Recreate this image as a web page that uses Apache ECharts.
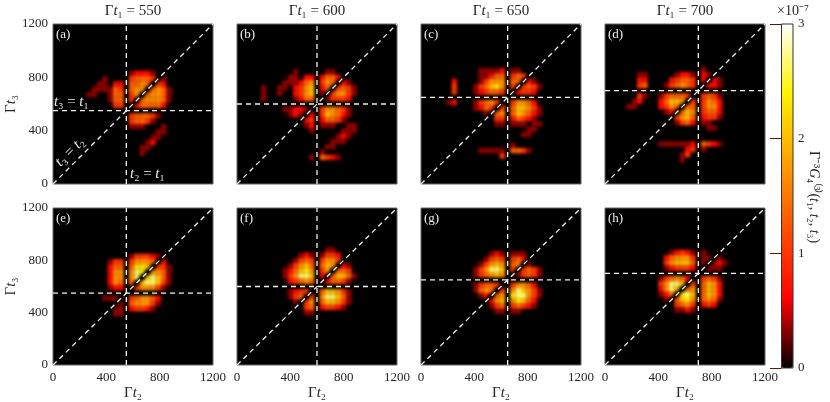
<!DOCTYPE html>
<html>
<head>
<meta charset="utf-8">
<script src="https://cdn.jsdelivr.net/npm/echarts@6/dist/echarts.min.js"></script>
<style>
html, body { margin: 0; background: #fff; }
#main { width: 830px; height: 402px; }
</style>
</head>
<body>
<div id="main"></div>
<script>
// cell rows run from high t3 to low t3, and are centred on (t1, t1). digit = value * 3, in 1e-7
const cell = 40
const tOne = [550, 600, 650, 700, 550, 600, 650, 700]
const panelNames = ['(a)', '(b)', '(c)', '(d)', '(e)', '(f)', '(g)', '(h)']
const axisTicks = [0, 400, 800, 1200]
const barTicks = [0, 3]

const panelA = ['', '', '', '',
  '00000000000012221',
  '00000001000034443010000',
  '00000011022044540320000',
  '00000111143045504541000',
  '00001100144035045541000',
  '00000000144030455541000',
  '00000000033002444420000',
  '',
  '000000000000344431',
  '00000000000034431',
  '0000000000001110001',
  '0000000000000000011',
  '000000000000000011',
  '00000000000000012',
  '0000000000000011',
  '000000000000001',
  '', '', '']
const panelB = ['', '', '', '', '',
  '00000001000001100000000',
  '00000011022024420000000',
  '00000111245035402100000',
  '01001102356024034310000',
  '01001002356010355310000',
  '01000001244001333200000',
  '',
  '00000112210035543100000',
  '00000012102036542100000',
  '00000000023024431',
  '0000000001201110011',
  '00000000001000001110000',
  '000000000000000121',
  '00000000000000111',
  '000000000000011',
  '0000000000001',
  '00000000001043210000000',
  '']
const panelC = ['', '', '', '', '', '',
  '00000011112011',
  '000000112440343',
  '02000013555044021',
  '030001346750303431',
  '03000123443002332',
  '01',
  '12000134530035542',
  '000001243030466531',
  '000000010450465421',
  '00000000033024321',
  '000000000110111011',
  '00000000000000011',
  '0000000000000011',
  '',
  '0000000000001',
  '0000001111104431',
  '00000000003']
const panelD = ['', '', '', '', '', '', '', '', '',
  '000000000000001',
  '0011000001221021',
  '002200002344302021',
  '003400013454300221',
  '0022',
  '003100134443003431',
  '012000246650303542',
  '110000235404403552',
  '000000012046503442',
  '000000000356402331',
  '0000000001342011',
  '00000000000000011',
  '',
  '',
  '000000111111204321',
  '000000000002301',
  '000000000013',
  '00000000001']
const panelE = ['', '', '', '',
  '000000000000133321',
  '0000000013303555402',
  '00000000244047760331',
  '00000000255058705541',
  '00000000255058068641',
  '00000000254040688631',
  '0000000012200355531',
  '',
  '000000011100345542',
  '000000000010455531',
  '00000000011023321',
  '00000000011',
  '', '', '', '', '', '', '']
const panelF = ['', '', '', '',
  '000000000000011',
  '0000000012101332',
  '0000000134303553',
  '000000135640465021',
  '000001246750350443',
  '0000013588602046641',
  '000000234540024431',
  '',
  '000000123300466531',
  '000000134030588641',
  '000000010350466531',
  '00000000034023321',
  '00000000011',
  '', '', '', '', '', '']
const panelG = ['', '', '', '', '', '',
  '000000001210111',
  '000000013430342',
  '0000001356504501',
  '000001358860303431',
  '000001345650013431',
  '',
  '00000134430035542',
  '000001454030586531',
  '000000120450788531',
  '00000000256057642',
  '00000000134034321',
  '00000000011011',
  '', '', '', '', '']
const panelH = ['', '', '', '', '', '', '',
  '0000001232101',
  '0000024555301101',
  '00000356664010121',
  '0000012333200111',
  '',
  '0000134542003431',
  '0000358860304652',
  '0000258604504652',
  '0000124078604652',
  '0000010467504541',
  '000000034530232',
  '00000001121',
  '', '', '', '']
const panels = [panelA, panelB, panelC, panelD, panelE, panelF, panelG, panelH]

const serif = '"Liberation Serif", serif'
const ink = '#262626'
const plotLeft = [53, 237, 421, 605]
const plotTop = [24, 208]
const plotSize = 160
const mathRich = {
  n: { fontFamily: serif, fontSize: 15, color: ink, fontWeight: 'normal' },
  i: { fontFamily: serif, fontSize: 15, color: ink, fontWeight: 'normal', fontStyle: 'italic' }
}
// graphic text goes straight to zrender, so rich colours here are fill
const barRich = {
  n: { fontFamily: serif, fontSize: 14, fill: ink },
  i: { fontFamily: serif, fontSize: 14, fill: ink, fontStyle: 'italic' }
}
const whiteRich = {
  n: { fontFamily: serif, fontSize: 15, fill: '#eee' },
  i: { fontFamily: serif, fontSize: 15, fill: '#eee', fontStyle: 'italic' }
}

function panelCells(rows, t1) {
  const half = (rows.length - 1) / 2
  const out = []
  rows.forEach((row, r) => {
    for (let c = 0; c < row.length; c++) {
      const d = Number(row[c])
      if (d > 0) out.push([t1 + (c - half) * cell, t1 + (half - r) * cell, d / 3])
    }
  })
  return out
}

function drawCell(params, api) {
  const x = api.value(0), y = api.value(1)
  const a = api.coord([x - cell / 2, y + cell / 2])
  const b = api.coord([x + cell / 2, y - cell / 2])
  return {
    type: 'rect',
    shape: { x: a[0], y: a[1], width: b[0] - a[0], height: b[1] - a[1] },
    style: { fill: api.visual('color') }
  }
}

function guideLine(i, data, zlevel, z, lineStyle) {
  return {
    type: 'line', xAxisIndex: i, yAxisIndex: i, data: data, zlevel: zlevel, z: z,
    showSymbol: false, silent: true, animation: false, lineStyle: lineStyle
  }
}
const dashStyle = { color: '#f4f4f4', width: 1.3, type: [5, 4] }
// the field is zero along t2 = t1, t3 = t1 and t3 = t2, cells are too coarse to show that alone
const nodeStyle = { color: '#000', width: 4.5 }
const nodeEnds = [100, 1100]

const plainTick = v => String(v)
const grids = [], xAxes = [], yAxes = [], series = [], cellSeries = [], graphics = [], titles = []
panels.forEach((rows, i) => {
  const col = i % 4, row = i < 4 ? 0 : 1, t1 = tOne[i]
  grids.push({
    left: plotLeft[col], top: plotTop[row], width: plotSize, height: plotSize,
    show: true, backgroundColor: '#000', borderColor: '#666', borderWidth: 1
  })
  xAxes.push({
    gridIndex: i, type: 'value', min: 0, max: axisTicks[3], interval: axisTicks[1],
    splitLine: { show: false }, axisLine: { show: false }, axisTick: { show: false },
    axisLabel: { show: row === 1, fontFamily: serif, fontSize: 13, color: ink, margin: 6, formatter: plainTick },
    name: row === 1 ? '{n|Γ}{i|t}{n|₂}' : '', nameLocation: 'middle', nameGap: 21,
    nameTextStyle: { rich: mathRich }
  })
  yAxes.push({
    gridIndex: i, type: 'value', min: 0, max: axisTicks[3], interval: axisTicks[1],
    splitLine: { show: false }, axisLine: { show: false }, axisTick: { show: false },
    axisLabel: { show: col === 0, fontFamily: serif, fontSize: 13, color: ink, margin: 5, formatter: plainTick },
    name: col === 0 ? '{n|Γ}{i|t}{n|₃}' : '', nameLocation: 'middle', nameGap: 31,
    nameTextStyle: { rich: mathRich }
  })
  cellSeries.push(series.length)
  series.push({
    type: 'custom', xAxisIndex: i, yAxisIndex: i, data: panelCells(rows, t1),
    renderItem: drawCell, encode: { x: 0, y: 1 }, zlevel: 1, z: 2, clip: true,
    silent: true, animation: false
  })
  const [lo, hi] = nodeEnds
  series.push(guideLine(i, [[t1, lo], [t1, hi]], 1, 5, nodeStyle))
  series.push(guideLine(i, [[lo, t1], [hi, t1]], 1, 5, nodeStyle))
  series.push(guideLine(i, [[lo, lo], [hi, hi]], 1, 5, nodeStyle))
  series.push(guideLine(i, [[t1, 0], [t1, 1200]], 2, 6, dashStyle))
  series.push(guideLine(i, [[0, t1], [1200, t1]], 2, 6, dashStyle))
  series.push(guideLine(i, [[0, 0], [1200, 1200]], 2, 6, dashStyle))
  graphics.push({
    type: 'text', left: plotLeft[col] + 3, top: plotTop[row] + 4, zlevel: 2,
    style: { text: panelNames[i], fontFamily: serif, fontSize: 13, fill: '#eee' }
  })
  if (row === 0) {
    titles.push({
      text: '{n|Γ}{i|t}{n|₁ = ' + t1 + '}', left: plotLeft[col] + plotSize / 2, top: 4,
      textAlign: 'center', padding: 0, textStyle: { rich: mathRich, fontWeight: 'normal' }
    })
  }
})

// colour bar axis sits over the visualMap strip
grids.push({
  left: 781.5, top: 24, width: 11.5, height: 344, show: true, zlevel: 2,
  backgroundColor: 'transparent', borderColor: '#333', borderWidth: 1
})
xAxes.push({ gridIndex: 8, type: 'value', show: false, min: 0, max: 1 })
yAxes.push({
  gridIndex: 8, type: 'value', position: 'right', min: barTicks[0], max: barTicks[1], interval: 1, zlevel: 2,
  splitLine: { show: false }, axisLine: { show: false },
  axisTick: { inside: true, length: 11.5, lineStyle: { color: '#5a1a00', width: 1 } },
  axisLabel: { fontFamily: serif, fontSize: 13, color: ink, margin: 5 }
})

graphics.push({
  type: 'text', x: 814, y: 197, rotation: -Math.PI / 2, zlevel: 2,
  style: {
    text: '{n|Γ⁻³}{i|G}{n|₄⁽³⁾(}{i|t}{n|₁, }{i|t}{n|₂, }{i|t}{n|₃)}',
    rich: barRich, align: 'center', verticalAlign: 'middle'
  }
})
graphics.push({
  type: 'text', left: 777, top: 4, zlevel: 2,
  style: { text: '×10⁻⁷', fontFamily: serif, fontSize: 14, fill: ink }
})
graphics.push({
  type: 'text', left: 54, top: 95, zlevel: 2,
  style: { text: '{i|t}{n|₃ = }{i|t}{n|₁}', rich: whiteRich }
})
graphics.push({
  type: 'text', left: 130, top: 167, zlevel: 2,
  style: { text: '{i|t}{n|₂ = }{i|t}{n|₁}', rich: whiteRich }
})
graphics.push({
  type: 'text', x: 70, y: 152, rotation: Math.PI / 4, zlevel: 2,
  style: { text: '{i|t}{n|₃ = }{i|t}{n|₂}', rich: whiteRich, align: 'center', verticalAlign: 'middle' }
})

const chart = echarts.init(document.getElementById('main'), null, { renderer: 'canvas' })

// soften the cell layer only (canvas order follows zlevel), axes and dashes stay sharp
function softenCells() {
  const layers = chart.getDom().querySelectorAll('canvas')
  if (layers[1]) layers[1].style.filter = 'blur(1.5px)'
}
chart.on('finished', softenCells)

chart.setOption({
  animation: false,
  backgroundColor: '#fff',
  title: titles,
  grid: grids,
  xAxis: xAxes,
  yAxis: yAxes,
  series: series,
  graphic: { elements: graphics },
  visualMap: {
    type: 'continuous', min: 0, max: 3, dimension: 2, seriesIndex: cellSeries,
    left: 781.5, top: 24, itemWidth: 11.5, itemHeight: 344, padding: 0,
    calculable: false, hoverLink: false, text: null, showLabel: false,
    inRange: { color: ['#000000', '#ff0000', '#ff4f00', '#ffa100', '#fff300', '#ffffff'] }
  }
})
softenCells()
</script>
</body>
</html>
